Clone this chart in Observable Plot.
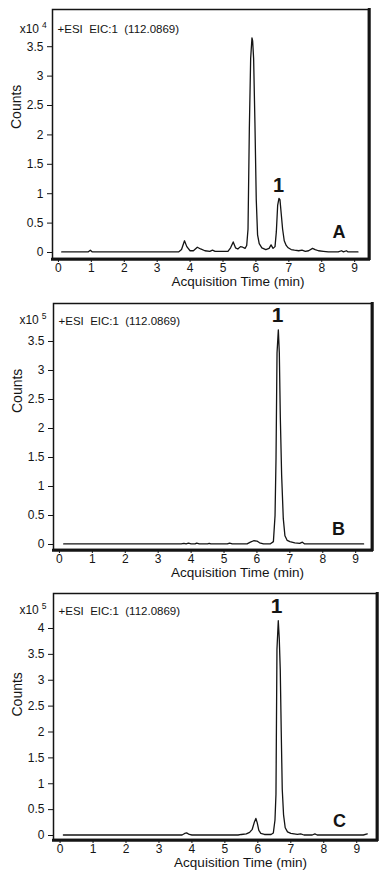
<!DOCTYPE html>
<html>
<head>
<meta charset="utf-8">
<script src="https://cdn.jsdelivr.net/npm/d3@7"></script>
<script src="https://cdn.jsdelivr.net/npm/@observablehq/plot@0.6"></script>
<style>
  html, body { margin: 0; padding: 0; background: #fff; }
  #chart svg { display: block; }
</style>
</head>
<body>
<div id="chart"></div>
<script>
// ---------- data ----------
const timeTicks = [0, 1, 2, 3, 4, 5, 6, 7, 8, 9];
const countTicksAB = [0, 0.5, 1, 1.5, 2, 2.5, 3, 3.5];
const countTicksC = [0, 0.5, 1, 1.5, 2, 2.5, 3, 3.5, 4];
const ionLabel = "+ESI\u00a0\u00a0EIC:1\u00a0\u00a0(112.0869)";
const xLabel = "Acquisition Time (min)";
const yLabel = "Counts";

// [time (min), counts in axis units]
// Panel A: counts ×10^4
const traceA = [
  [0.1, 0.01], [0.9, 0.01], [0.97, 0.04], [1.03, 0.01], [3.65, 0.01], [3.74, 0.05],
  [3.83, 0.2], [3.9, 0.1], [4.0, 0.03], [4.1, 0.03], [4.22, 0.09], [4.32, 0.06],
  [4.45, 0.03], [4.6, 0.02], [4.68, 0.04], [4.76, 0.02], [5.0, 0.02], [5.15, 0.02],
  [5.23, 0.08], [5.31, 0.18], [5.38, 0.08], [5.45, 0.06], [5.53, 0.1], [5.6, 0.09],
  [5.67, 0.07], [5.72, 0.12], [5.76, 0.4], [5.8, 2.1], [5.84, 3.3], [5.88, 3.65],
  [5.9, 3.6], [5.93, 3.3], [5.97, 2.2], [6.01, 0.9], [6.05, 0.3], [6.1, 0.15],
  [6.18, 0.08], [6.3, 0.05], [6.4, 0.07], [6.46, 0.13], [6.52, 0.07], [6.58, 0.1],
  [6.62, 0.35], [6.66, 0.8], [6.7, 0.92], [6.73, 0.9], [6.77, 0.65], [6.81, 0.4],
  [6.86, 0.2], [6.92, 0.12], [6.98, 0.08], [7.07, 0.05], [7.17, 0.04], [7.3, 0.03],
  [7.4, 0.04], [7.5, 0.02], [7.6, 0.03], [7.72, 0.07], [7.8, 0.05], [7.9, 0.03],
  [8.05, 0.02], [8.2, 0.01], [8.5, 0.01], [8.6, 0.03], [8.66, 0.01], [8.75, 0.03],
  [8.8, 0.01], [9.1, 0.01]
];
// Panel B: counts ×10^5
const traceB = [
  [0.13, 0.01], [3.7, 0.01], [3.78, 0.02], [3.85, 0.01], [3.92, 0.025], [4.0, 0.01],
  [4.12, 0.01], [4.17, 0.025], [4.25, 0.01], [4.5, 0.01], [4.55, 0.02], [4.6, 0.01],
  [5.1, 0.01], [5.17, 0.025], [5.25, 0.01], [5.7, 0.01], [5.8, 0.04], [5.9, 0.065],
  [6.0, 0.06], [6.08, 0.03], [6.2, 0.01], [6.4, 0.01], [6.5, 0.05], [6.55, 0.5],
  [6.58, 1.5], [6.61, 3.3], [6.65, 3.7], [6.68, 3.3], [6.71, 2.2], [6.75, 1.2],
  [6.8, 0.45], [6.85, 0.15], [6.92, 0.07], [7.0, 0.05], [7.15, 0.03], [7.3, 0.02],
  [7.38, 0.04], [7.45, 0.01], [9.24, 0.01]
];
// Panel C: counts ×10^5
const traceC = [
  [0.1, 0.01], [3.7, 0.01], [3.78, 0.04], [3.84, 0.05], [3.92, 0.02], [4.0, 0.01],
  [5.4, 0.01], [5.5, 0.02], [5.65, 0.03], [5.75, 0.06], [5.83, 0.12], [5.89, 0.25],
  [5.94, 0.33], [5.98, 0.25], [6.03, 0.1], [6.09, 0.04], [6.2, 0.02], [6.4, 0.02],
  [6.47, 0.05], [6.52, 0.3], [6.55, 0.8], [6.58, 3.6], [6.62, 4.15], [6.65, 3.8],
  [6.68, 3.2], [6.71, 2.0], [6.74, 0.9], [6.78, 0.4], [6.83, 0.15], [6.9, 0.07],
  [7.0, 0.04], [7.2, 0.02], [7.3, 0.03], [7.4, 0.01], [7.65, 0.01], [7.73, 0.03],
  [7.8, 0.01], [9.2, 0.01], [9.32, 0.03]
];

// annotations: [time, counts, text]
const peakLabelA = [[6.69, 1.13, "1"]];
const peakLabelB = [[6.63, 3.96, "1"]];
const peakLabelC = [[6.57, 4.43, "1"]];
const letterA = [[8.52, 0.35, "A"]];
const letterB = [[8.48, 0.26, "B"]];
const letterC = [[8.48, 0.28, "C"]];
const exponentA = ["4"];
const exponentB = ["5"];
const exponentC = ["5"];

// ---------- drawing ----------
const FONT = "'Liberation Sans', Arial, Helvetica, sans-serif";
const INK = "#141414";

function panel(o) {
  return Plot.plot({
    width: 386,
    height: o.height,
    marginTop: o.mt, marginBottom: o.mb, marginLeft: o.ml, marginRight: o.mr,
    style: {fontFamily: FONT, fontSize: "12px", color: INK, background: "#fff", overflow: "visible"},
    x: {domain: o.xDomain, ticks: timeTicks, tickSize: 4, tickPadding: 1, tickFormat: d => `${d}`, label: null},
    y: {domain: o.yDomain, ticks: o.yTicks, tickSize: 5, tickPadding: 4, tickFormat: d => `${d}`, label: null},
    marks: [
      Plot.line(o.trace, {x: d => d[0], y: d => d[1], stroke: INK, strokeWidth: 1.3, strokeLinejoin: "round"}),
      Plot.frame({stroke: INK, strokeWidth: 1.5}),
      Plot.frame({anchor: "right", stroke: INK, strokeWidth: 3, dx: 0.75}),
      Plot.frame({anchor: "bottom", stroke: INK, strokeWidth: 3, dy: 0.75}),
      Plot.text(o.peak, {x: d => d[0], y: d => d[1], text: d => d[2], fontWeight: "bold", fontSize: o.peakSize, fill: INK, fontFamily: FONT}),
      Plot.text(o.letter, {x: d => d[0], y: d => d[1], text: d => d[2], fontWeight: "bold", fontSize: 18, fill: INK, fontFamily: FONT}),
      Plot.text([ionLabel], {frameAnchor: "top-left", textAnchor: "start", dx: 5, dy: o.ionDy, fontSize: 11.5, fill: INK, fontFamily: FONT}),
      Plot.text(["x10"], {frameAnchor: "top-left", textAnchor: "end", dx: o.x10Dx, dy: o.x10Dy, fontSize: 12, fill: INK, fontFamily: FONT}),
      Plot.text(o.exponent, {frameAnchor: "top-left", textAnchor: "start", dx: o.x10Dx + 3, dy: o.x10Dy - 2.3, fontSize: 8.5, fill: INK, fontFamily: FONT}),
      Plot.text([yLabel], {frameAnchor: "left", rotate: -90, dx: -36, dy: o.yLabDy, fontSize: 14, fill: INK, fontFamily: FONT}),
      Plot.text([xLabel], {frameAnchor: "bottom", dx: o.xLabDx, dy: o.xLabDy, fontSize: 13.5, fill: INK, fontFamily: FONT})
    ]
  });
}

const root = document.getElementById("chart");
root.append(panel({
  height: 293, mt: 9, mb: 35, ml: 52, mr: 18,
  xDomain: [-0.18, 9.42], yDomain: [-0.102, 4.133], yTicks: countTicksAB,
  trace: traceA, peak: peakLabelA, letter: letterA, exponent: exponentA, peakSize: 20,
  ionDy: 15, x10Dx: -13.5, x10Dy: 15.2, yLabDy: -5, xLabDx: 27.5, xLabDy: 27.5
}));
root.append(panel({
  height: 289, mt: 10, mb: 33, ml: 53, mr: 15,
  xDomain: [-0.18, 9.48], yDomain: [-0.086, 4.155], yTicks: countTicksAB,
  trace: traceB, peak: peakLabelB, letter: letterB, exponent: exponentB, peakSize: 21,
  ionDy: 13, x10Dx: -14.7, x10Dy: 11.7, yLabDy: -13.5, xLabDx: 25, xLabDy: 27.5
}));
root.append(panel({
  height: 299, mt: 11, mb: 42, ml: 53, mr: 10,
  xDomain: [-0.2, 9.6], yDomain: [-0.077, 4.676], yTicks: countTicksC,
  trace: traceC, peak: peakLabelC, letter: letterC, exponent: exponentC, peakSize: 21,
  ionDy: 13.6, x10Dx: -14.7, x10Dy: 11.8, yLabDy: 0, xLabDx: 25.5, xLabDy: 27.5
}));
</script>
</body>
</html>
